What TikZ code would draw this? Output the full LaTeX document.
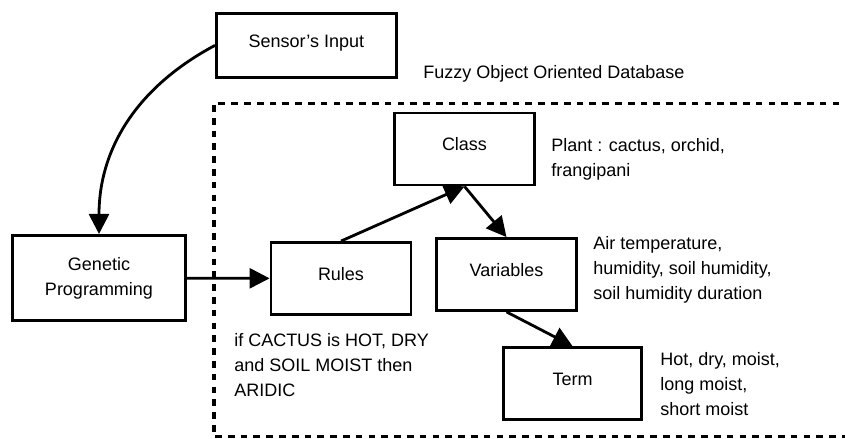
\documentclass[tikz,border=0pt]{standalone}
\usepackage{fontspec}
\setmainfont{Liberation Sans}
\usetikzlibrary{positioning, arrows.meta}

\begin{document}
\begin{tikzpicture}[>={Triangle[length=0.5cm, width=0.5cm]}, font=\fontsize{12.8}{17.9}\selectfont,
      box/.style ={draw, line width=2pt, align=center, minimum width=3.5cm, minimum height=1.8cm,
                   text height=0.7em, text depth=0.45em, inner sep=3pt},
      note/.style={anchor=base west, align=left, inner sep=0pt},
      link/.style={->, line width=2pt},
      db/.style  ={line width=2.3pt, dash pattern=on 4.75pt off 4.35pt}]
    \useasboundingbox (0,0) rectangle (21.125,10.975);
    % --- OUTSIDE: sensor readings feed the genetic programming ---
    \node[box, minimum width=4.5cm, minimum height=1.6cm] (sensor) at (7.66,9.84) {Sensor's Input};
    \node[box, minimum width=4.33cm, minimum height=2.13cm, text height=, text depth=] (gp) at (2.475,4.025)
      {Genetic\\ Programming};
    \draw[link] (sensor.west) to[out=208, in=90] (gp.north);
    % --- the fuzzy object oriented database, open to the right ---
    \coordinate (dbtl) at (5.35,8.39);
    \coordinate (dbtr) at (21.3,8.39);
    \coordinate (dbbl) at (5.35,0.06);
    \coordinate (dbbr) at (21.3,0.06);
    \draw[db] (dbtr) -- (dbtl) -- (dbbl) -- (dbbr);
    \node[note] (dbname) at (10.575,9.0) {Fuzzy Object Oriented Database};
    % --- INSIDE: rules, class, variables and terms ---
    \node[box] (rules)     at (8.525,4.0125)  {Rules};
    \node[box] (class)     at (11.6125,7.25)  {Class};
    \node[box] (variables) at (12.6625,4.1125) {Variables};
    \node[box, minimum width=3.45cm] (term) at (14.3125,1.3875) {Term};
    % (notes are placed by the baseline of their last line)
    \node[note] (plant) at (13.775,6.55) {Plant : cactus, orchid,\\ frangipani};
    \node[note] (vars)  at (14.825,3.475) {Air temperature,\\ humidity, soil humidity,\\ soil humidity duration};
    \node[note] (terms) at (16.5,0.575)  {Hot, dry, moist,\\ long moist,\\ short moist};
    \node[note] (rule)  at (5.85,1.05)   {if CACTUS is HOT, DRY\\ and SOIL MOIST then\\ ARIDIC};
    \draw[link] (gp) -- (rules);
    \draw[link] (rules.north) -- (class.south);
    \draw[link] (class.south) -- (variables.north);
    \draw[link] (variables.south) -- (term.north);
  \end{tikzpicture}
\end{document}
